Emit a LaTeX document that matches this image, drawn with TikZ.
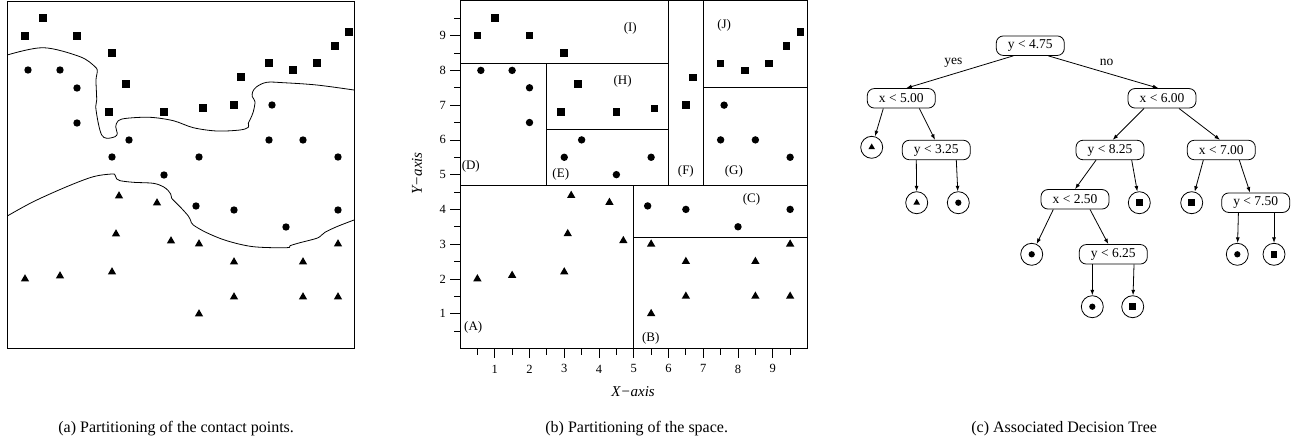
\documentclass[tikz,border=0pt]{standalone}
\usepackage{fontspec}
\setmainfont{Liberation Serif}
\usetikzlibrary{arrows.meta,shapes.geometric}
\begin{document}
\begin{tikzpicture}[x=1pt,y=-1pt,line width=0.8pt,
  sqmark/.pic={\fill (-3.8pt,-3.8pt) rectangle (3.8pt,3.8pt);},
  cimark/.pic={\fill (0pt,0pt) circle (3.7pt);},
  trmark/.pic={\fill (90:4.8pt) -- (210:4.8pt) -- (330:4.8pt) -- cycle;},
  tbox/.style={draw,rounded corners=7pt,minimum width=68pt,minimum height=19.5pt,inner sep=0pt,font=\fontsize{13.5}{15}\selectfont},
  leaf/.style={draw,circle,minimum size=22pt,inner sep=0pt},
  tedge/.style={-{Latex[length=5.5pt,width=4pt]},line width=0.8pt},
  reglab/.style={font=\fontsize{13}{15}\selectfont,inner sep=0pt},
  ticklab/.style={font=\fontsize{12.5}{14}\selectfont,inner sep=0pt},
  axlab/.style={font=\fontsize{15}{17}\selectfont\itshape,inner sep=0pt},
  caplab/.style={font=\fontsize{16}{18}\selectfont,inner sep=0pt,anchor=base west},
  curve/.style={line width=0.8pt}
]
\useasboundingbox (0,0) rectangle (1305,441);
\fill[white] (0,0) rectangle (1305,441);

% ---------------- Panel (a) ----------------
\draw (7,1) rectangle (354,348);
\draw[curve] plot[smooth,tension=0.55] coordinates {(7.3,55) (43.3,47.7) (80,56.7) (95,66.7) (97.3,71.7) (96,80) (96.7,100) (95.7,106.7) (98.3,123.3) (101.7,135) (106.7,138.3) (115,136.7) (117.3,133.3) (115.7,126.7) (118.3,120.7) (126.7,118.3) (150,117.3) (173.3,120.7) (193.3,127.7) (216.7,131) (240,130) (248.3,127.3) (248.3,123.3) (250.7,118.3) (253.3,111.7) (255,101.7) (252.3,96.7) (252.7,91.7) (256.7,86.7) (266.7,82.3) (283.3,82.7) (316.7,85) (354,90)};
\draw[curve] plot[smooth,tension=0.55] coordinates {(7.3,216) (33.3,201.7) (66.7,186.7) (93.3,176.7) (111.7,174) (115,175) (116.7,179) (120,180.7) (133.3,182.3) (153.3,183.3) (163.3,186.7) (168.3,190.7) (170.7,194) (171.7,198.3) (180,206.7) (188.3,216) (190.7,220.7) (193.3,225) (206.7,232.7) (226.7,240.7) (253.3,246.7) (286.7,247.7) (290,245.7) (300,242.7) (316.7,238.3) (321.7,235) (325,232.3) (336.7,226.7) (354,220)};
\foreach \x/\y in {25/36,43/18,77/36,112/53,126/84,109/112,164/112,203/108,234/105,241/77,269/63,293/70,317/63,335/46,349/32}
  \pic at (\x,\y) {sqmark};
\foreach \x/\y in {28/70,60/70,77/88,77/123,129/140,112/157,199/157,164/175,272/105,269/140,303/140,338/157,196/206,234/210,338/210,286/227}
  \pic at (\x,\y) {cimark};
\foreach \x/\y in {119/196,157/203,116/234,171/241,199/244,338/244,234/262,303/262,25/279,60/276,112/272,234/297,303/297,338/297,199/314}
  \pic at (\x,\y) {trmark};

% ---------------- Panel (b) ----------------
\begin{scope}[shift={(460pt,-348.4pt)},x=34.75pt,y=34.75pt]
  \draw (0,0) rectangle (10,10);
  \draw (0,4.7) -- (10,4.7);
  \draw (5,0) -- (5,4.7);
  \draw (5,3.2) -- (10,3.2);
  \draw (0,8.2) -- (6,8.2);
  \draw (2.5,4.7) -- (2.5,8.2);
  \draw (2.5,6.3) -- (6,6.3);
  \draw (6,4.7) -- (6,10);
  \draw (7,4.7) -- (7,10);
  \draw (7,7.5) -- (10,7.5);
  % ticks
  \foreach \i in {1,...,9} {
    \draw (\i,0) -- ++(0pt,-10pt);
    \draw (0,\i) -- ++(-10pt,0pt);
    \node[ticklab] (xt\i) at (\i,-0.59) {\i};
    \node[ticklab] (yt\i) at (-0.5,\i) {\i};
  }
  \foreach \i in {0.5,1.5,2.5,3.5,4.5,5.5,6.5,7.5,8.5,9.5} {
    \draw (\i,0) -- ++(0pt,-6.5pt);
    \draw (0,\i) -- ++(-6.5pt,0pt);
  }
  \node[axlab] (xax) at (4.98,-1.25) {X−axis};
  \node[axlab,rotate=90] (yax) at (-1.24,5.03) {Y−axis};
  % points
  \foreach \x/\y in {0.5/9.0,1.0/9.5,2.0/9.0,3.0/8.5,3.4/7.6,2.9/6.8,4.5/6.8,5.6/6.9,6.5/7.0,6.7/7.8,7.5/8.2,8.2/8.0,8.9/8.2,9.4/8.7,9.8/9.1}
    \pic at (\x,\y) {sqmark};
  \foreach \x/\y in {0.6/8.0,1.5/8.0,2.0/7.5,2.0/6.5,3.5/6.0,3.0/5.5,4.5/5.0,5.5/5.5,7.6/7.0,7.5/6.0,8.5/6.0,9.5/5.5,5.4/4.1,6.5/4.0,8.0/3.5,9.5/4.0}
    \pic at (\x,\y) {cimark};
  \foreach \x/\y in {3.2/4.4,4.3/4.2,3.1/3.3,4.7/3.1,0.5/2.0,1.5/2.1,3.0/2.2,5.5/3.0,9.5/3.0,6.5/2.5,8.5/2.5,6.5/1.5,8.5/1.5,9.5/1.5,5.5/1.0}
    \pic at (\x,\y) {trmark};
  % region labels
  \node[reglab] (rI) at (4.9,9.2) {(I)};
  \node[reglab] (rH) at (4.68,7.69) {(H)};
  \node[reglab] (rJ) at (7.6,9.3) {(J)};
  \node[reglab] (rD) at (0.31,5.23) {(D)};
  \node[reglab] (rE) at (2.9,5.02) {(E)};
  \node[reglab] (rF) at (6.5,5.1) {(F)};
  \node[reglab] (rG) at (7.88,5.1) {(G)};
  \node[reglab] (rC) at (8.39,4.29) {(C)};
  \node[reglab] (rA) at (0.38,0.6) {(A)};
  \node[reglab] (rB) at (5.49,0.29) {(B)};
\end{scope}

% ---------------- Panel (c) ----------------
\node[tbox] (root) at (1030.3,45.7) {y < 4.75};
\node[tbox] (n1) at (901.3,98.3) {x < 5.00};
\node[tbox] (n2) at (1162,98.3) {x < 6.00};
\node[tbox] (n3) at (936.3,150) {y < 3.25};
\node[tbox] (n4) at (1110,150) {y < 8.25};
\node[tbox] (n5) at (1221.3,150) {x < 7.00};
\node[tbox] (n6) at (1075,199.3) {x < 2.50};
\node[tbox] (n7) at (1255.7,202.7) {y < 7.50};
\node[tbox] (n8) at (1113.3,254.3) {y < 6.25};
\node[leaf] (l1) at (871.7,147.3) {};
\node[leaf] (l2) at (916.7,202.7) {};
\node[leaf] (l3) at (958.3,202.7) {};
\node[leaf] (l4) at (1139.3,202.7) {};
\node[leaf] (l5) at (1191.7,202.7) {};
\node[leaf] (l6) at (1031.7,254.3) {};
\node[leaf] (l7) at (1237.3,254.3) {};
\node[leaf] (l8) at (1274,254.3) {};
\node[leaf] (l9) at (1092.3,306.7) {};
\node[leaf] (l10) at (1132.7,306.7) {};
\pic[scale=0.8] at (l1) {trmark};
\pic[scale=0.8] at (l2) {trmark};
\pic[scale=0.85] at (l3) {cimark};
\pic[scale=0.85] at (l4) {sqmark};
\pic[scale=0.85] at (l5) {sqmark};
\pic[scale=0.85] at (l6) {cimark};
\pic[scale=0.85] at (l7) {cimark};
\pic[scale=0.85] at (l8) {sqmark};
\pic[scale=0.85] at (l9) {cimark};
\pic[scale=0.85] at (l10) {sqmark};

\draw[tedge] ([xshift=-17pt]root.south) -- ([xshift=5pt]n1.north);
\draw[tedge] ([xshift=18pt]root.south) -- ([xshift=-3.7pt]n2.north);
\draw[tedge] ([xshift=-18pt]n1.south) -- (l1);
\draw[tedge] ([xshift=18pt]n1.south) -- ([xshift=-1.3pt]n3.north);
\draw[tedge] ([xshift=-20pt]n3.south) -- (l2);
\draw[tedge] ([xshift=20pt]n3.south) -- (l3);
\draw[tedge] ([xshift=-18pt]n2.south) -- ([xshift=2.7pt]n4.north);
\draw[tedge] ([xshift=17pt]n2.south) -- ([xshift=-1.3pt]n5.north);
\draw[tedge] ([xshift=-14pt]n4.south) -- (n6.north);
\draw[tedge] ([xshift=21.7pt]n4.south) -- (l4);
\draw[tedge] ([xshift=-18pt]n5.south) -- (l5);
\draw[tedge] ([xshift=18pt]n5.south) -- ([xshift=-5.7pt]n7.north);
\draw[tedge] ([xshift=-21.7pt]n6.south) -- (l6);
\draw[tedge] ([xshift=15pt]n6.south) -- ([xshift=-5pt]n8.north);
\draw[tedge] ([xshift=-17.3pt]n7.south) -- (l7);
\draw[tedge] ([xshift=18.3pt]n7.south) -- (l8);
\draw[tedge] ([xshift=-21pt]n8.south) -- (l9);
\draw[tedge] ([xshift=20.7pt]n8.south) -- (l10);
\node[font=\fontsize{13.5}{15}\selectfont,inner sep=0pt] (yes) at (953.3,62.7) {yes};
\node[font=\fontsize{13.5}{15}\selectfont,inner sep=0pt] (no) at (1106.7,62.7) {no};

% ---------------- Captions ----------------
\node[caplab] (capa) at (58,432) {(a) Partitioning of the contact points.};
\node[caplab] (capb) at (545,432) {(b) Partitioning of the space.};
\node[caplab] (capc) at (971,432) {(c) Associated Decision Tree};
\end{tikzpicture}
\end{document}
